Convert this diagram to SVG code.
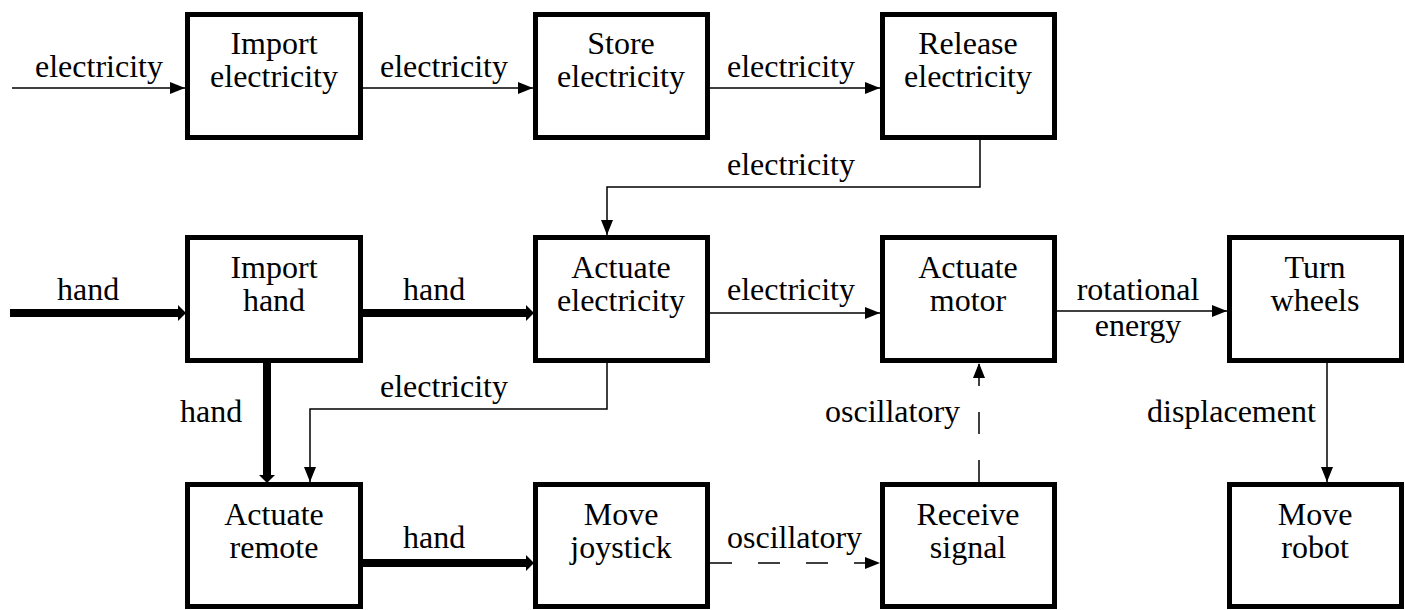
<svg xmlns="http://www.w3.org/2000/svg" width="1405" height="610" viewBox="0 0 1405 610">
<style>
.box{fill:#fff;stroke:#000;stroke-width:5}
.t{font-family:'Liberation Serif','Times New Roman',serif;font-size:32px;fill:#000}
.m{text-anchor:middle}
.thin{fill:none;stroke:#000;stroke-width:1.5}
.thick{fill:none;stroke:#000;stroke-width:8}
.dash{fill:none;stroke:#000;stroke-width:1.5;stroke-dasharray:22 26}
</style>
<defs>
<marker id="a" markerUnits="userSpaceOnUse" markerWidth="16" markerHeight="14" refX="15" refY="7" orient="auto">
<path d="M0,1 L15,7 L0,13 z" fill="#000"/>
</marker>
<marker id="ak" markerUnits="userSpaceOnUse" markerWidth="12" markerHeight="16" refX="0" refY="8" orient="auto">
<path d="M0,0 L8,8 L0,16 z" fill="#000"/>
</marker>
</defs>
<g id="connectors">
<line class="thin" x1="12" y1="88" x2="185" y2="88" marker-end="url(#a)"/>
<line class="thin" x1="363" y1="88" x2="533" y2="88" marker-end="url(#a)"/>
<line class="thin" x1="710" y1="88" x2="880" y2="88" marker-end="url(#a)"/>
<path class="thin" d="M980,140 V187 H607 V235" marker-end="url(#a)"/>
<line class="thick" x1="10" y1="313" x2="178" y2="313" marker-end="url(#ak)"/>
<line class="thick" x1="363" y1="313" x2="526" y2="313" marker-end="url(#ak)"/>
<line class="thin" x1="710" y1="313" x2="880" y2="313" marker-end="url(#a)"/>
<line class="thin" x1="1057" y1="311" x2="1227" y2="311" marker-end="url(#a)"/>
<path class="thin" d="M607,363 V409 H310 V482" marker-end="url(#a)"/>
<line class="thick" x1="267" y1="363" x2="267" y2="475" marker-end="url(#ak)"/>
<line class="thick" x1="363" y1="563" x2="526" y2="563" marker-end="url(#ak)"/>
<line class="dash" x1="710" y1="563" x2="880" y2="563" marker-end="url(#a)"/>
<line class="dash" x1="979" y1="482" x2="979" y2="363" marker-end="url(#a)"/>
<line class="thin" x1="1327" y1="363" x2="1327" y2="482" marker-end="url(#a)"/>
</g>
<g id="labels">
<text class="t" x="35" y="77">electricity</text>
<text class="t" x="380" y="77">electricity</text>
<text class="t" x="727" y="77">electricity</text>
<text class="t" x="727" y="175">electricity</text>
<text class="t" x="57" y="300">hand</text>
<text class="t" x="403" y="300">hand</text>
<text class="t" x="727" y="300">electricity</text>
<text class="t m" x="1138" y="300">rotational</text>
<text class="t m" x="1138" y="336">energy</text>
<text class="t" x="380" y="397">electricity</text>
<text class="t" x="180" y="422">hand</text>
<text class="t" x="825" y="422">oscillatory</text>
<text class="t" x="1147" y="422">displacement</text>
<text class="t" x="403" y="548">hand</text>
<text class="t" x="727" y="548">oscillatory</text>
</g>
<g id="n1"><rect class="box" x="187.5" y="14.5" width="173" height="123"/><text class="t m" x="274" y="54">Import</text><text class="t m" x="274" y="87">electricity</text></g>
<g id="n2"><rect class="box" x="535.5" y="14.5" width="172" height="123"/><text class="t m" x="621" y="54">Store</text><text class="t m" x="621" y="87">electricity</text></g>
<g id="n3"><rect class="box" x="882.5" y="14.5" width="172" height="123"/><text class="t m" x="968" y="54">Release</text><text class="t m" x="968" y="87">electricity</text></g>
<g id="n4"><rect class="box" x="187.5" y="237.5" width="173" height="123"/><text class="t m" x="274" y="278">Import</text><text class="t m" x="274" y="311">hand</text></g>
<g id="n5"><rect class="box" x="535.5" y="237.5" width="172" height="123"/><text class="t m" x="621" y="278">Actuate</text><text class="t m" x="621" y="311">electricity</text></g>
<g id="n6"><rect class="box" x="882.5" y="237.5" width="172" height="123"/><text class="t m" x="968" y="278">Actuate</text><text class="t m" x="968" y="311">motor</text></g>
<g id="n7"><rect class="box" x="1229.5" y="237.5" width="172" height="123"/><text class="t m" x="1315" y="278">Turn</text><text class="t m" x="1315" y="311">wheels</text></g>
<g id="n8"><rect class="box" x="187.5" y="484.5" width="173" height="122"/><text class="t m" x="274" y="525">Actuate</text><text class="t m" x="274" y="558">remote</text></g>
<g id="n9"><rect class="box" x="535.5" y="484.5" width="172" height="122"/><text class="t m" x="621" y="525">Move</text><text class="t m" x="621" y="558">joystick</text></g>
<g id="n10"><rect class="box" x="882.5" y="484.5" width="172" height="122"/><text class="t m" x="968" y="525">Receive</text><text class="t m" x="968" y="558">signal</text></g>
<g id="n11"><rect class="box" x="1229.5" y="484.5" width="172" height="122"/><text class="t m" x="1315" y="525">Move</text><text class="t m" x="1315" y="558">robot</text></g>
</svg>
